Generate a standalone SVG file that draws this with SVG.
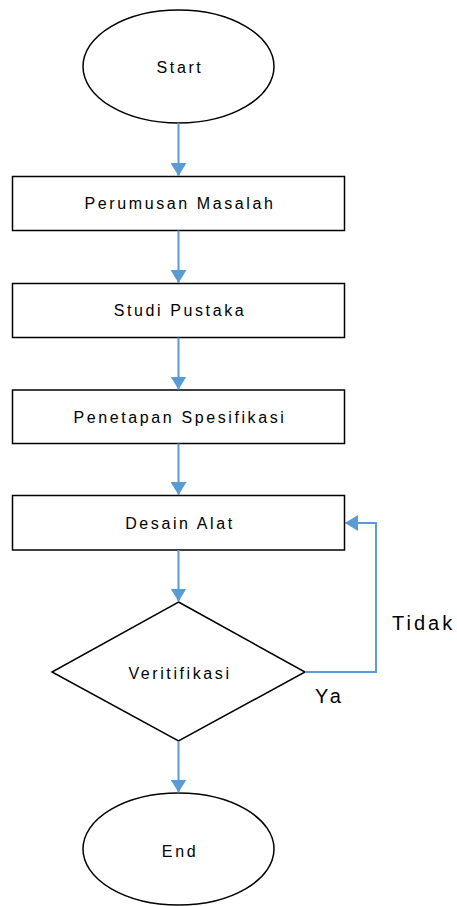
<svg xmlns="http://www.w3.org/2000/svg" width="457" height="906" viewBox="0 0 457 906">
<style>
.shape{fill:#fff;stroke:#000;stroke-width:1.5}
.lbl{font-family:"Liberation Sans",Arial,sans-serif;font-size:16px;letter-spacing:2.6px;fill:#000;text-anchor:middle}
.big{font-family:"Liberation Sans",Arial,sans-serif;font-size:20px;letter-spacing:3px;fill:#000}
.conn{fill:none;stroke:#5B9BD5;stroke-width:2}
</style>
<defs>
<marker id="arr" markerUnits="userSpaceOnUse" markerWidth="13" markerHeight="16" refX="13" refY="8" orient="auto">
<path d="M0,0 L13,8 L0,16 z" fill="#5B9BD5"/>
</marker>
</defs>
<g id="start"><ellipse class="shape" cx="178.5" cy="66.5" rx="95.5" ry="56.5"/><text class="lbl" x="180" y="73">Start</text></g>
<g id="perumusan"><rect class="shape" x="12.5" y="176.5" width="332" height="54"/><text class="lbl" x="180" y="209">Perumusan Masalah</text></g>
<g id="studi"><rect class="shape" x="12.5" y="283.5" width="332" height="54"/><text class="lbl" x="180" y="316">Studi Pustaka</text></g>
<g id="penetapan"><rect class="shape" x="12.5" y="390" width="332" height="53.5"/><text class="lbl" x="180" y="422.5">Penetapan Spesifikasi</text></g>
<g id="desain"><rect class="shape" x="12.5" y="495.5" width="332" height="54.5"/><text class="lbl" x="180" y="528.5">Desain Alat</text></g>
<g id="verifikasi"><polygon class="shape" points="178.5,602 305,672 178.5,741 52,672"/><text class="lbl" x="180" y="679">Veritifikasi</text></g>
<g id="end"><ellipse class="shape" cx="178.5" cy="849" rx="95.5" ry="56"/><text class="lbl" x="180" y="857">End</text></g>
<g id="connectors">
<line class="conn" x1="178.5" y1="123" x2="178.5" y2="176" marker-end="url(#arr)"/>
<line class="conn" x1="178.5" y1="230.5" x2="178.5" y2="283" marker-end="url(#arr)"/>
<line class="conn" x1="178.5" y1="337.5" x2="178.5" y2="389.5" marker-end="url(#arr)"/>
<line class="conn" x1="178.5" y1="443.5" x2="178.5" y2="495" marker-end="url(#arr)"/>
<line class="conn" x1="178.5" y1="550" x2="178.5" y2="601.5" marker-end="url(#arr)"/>
<line class="conn" x1="178.5" y1="741" x2="178.5" y2="792.5" marker-end="url(#arr)"/>
<polyline class="conn" points="305,672 376,672 376,523 345,523" marker-end="url(#arr)"/>
<text class="big" x="392" y="630">Tidak</text>
<text class="big" x="315" y="703">Ya</text>
</g>
</svg>
